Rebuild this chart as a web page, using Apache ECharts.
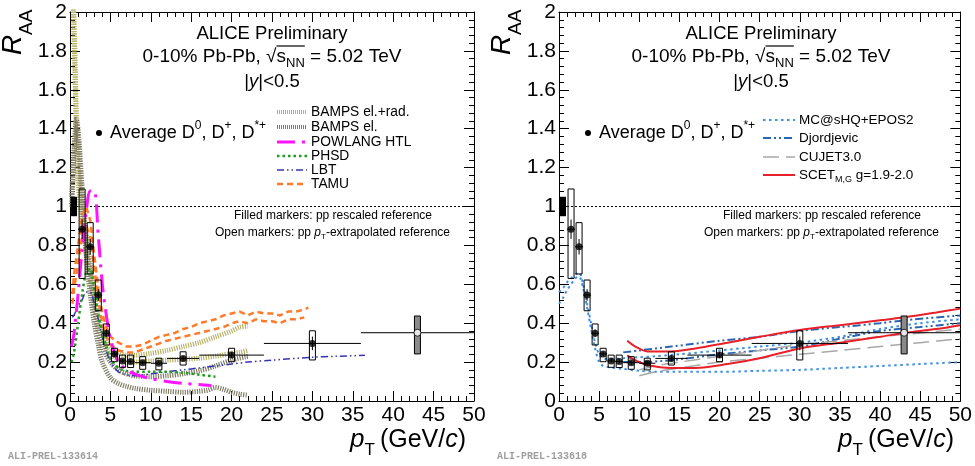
<!DOCTYPE html>
<html>
<head>
<meta charset="utf-8">
<script src="https://cdn.jsdelivr.net/npm/echarts@6/dist/echarts.min.js"></script>
<style>
  html, body { margin: 0; padding: 0; background: #fff; }
  #chart { width: 975px; height: 466px; }
</style>
</head>
<body>
<div id="chart"></div>
<script>
// ---- Measured D-meson R_AA (average D0, D+, D*+), 0-10% Pb-Pb ----
const binLow    = [1, 2, 3, 4, 5, 6, 7, 8, 10, 12, 16, 24, 36];
const binHigh   = [2, 3, 4, 5, 6, 7, 8, 10, 12, 16, 24, 36, 50];
const binCentre = [1.5, 2.5, 3.5, 4.5, 5.5, 6.5, 7.5, 9, 11, 14, 20, 30, 43];
const raa       = [0.883, 0.793, 0.545, 0.348, 0.242, 0.206, 0.203, 0.197, 0.194, 0.219, 0.236, 0.296, 0.351];
const statErr   = [0.05, 0.04, 0.03, 0.02, 0.012, 0.01, 0.01, 0.01, 0.01, 0.012, 0.015, 0.035, 0.05];
const systLow   = [0.63, 0.653, 0.464, 0.288, 0.202, 0.173, 0.172, 0.163, 0.16, 0.185, 0.202, 0.211, 0.242];
const systHigh  = [1.09, 0.917, 0.622, 0.396, 0.271, 0.236, 0.236, 0.228, 0.22, 0.253, 0.271, 0.361, 0.437];
const openPoint = [false, false, false, false, false, false, false, false, false, false, false, false, true];
const normCentre = 0.5;
const normLow = 0.95;
const normHigh = 1.05;

// ---- Model curves, left panel ----
const bampsRadUpper = [[0.4,2.1],[0.6,1.8],[0.8,1.45],[1.0,1.2],[1.5,1.0],[2,0.85],[2.5,0.7],[3,0.55],[3.5,0.44],[4,0.36],[4.5,0.31],[5,0.28],[6,0.25],[7,0.235],[8,0.235],[10,0.245],[12,0.26],[14,0.28],[16,0.3],[18,0.33],[20,0.36],[21,0.38],[22,0.385]];
const bampsRadLower = [[0.4,2.05],[0.6,1.7],[0.8,1.35],[1,1.12],[1.5,0.92],[2,0.78],[2.5,0.63],[3,0.5],[3.5,0.4],[4,0.32],[4.5,0.27],[5,0.24],[6,0.215],[7,0.2],[8,0.2],[10,0.205],[12,0.21],[14,0.215],[16,0.22],[18,0.23],[20,0.245],[21,0.25],[22,0.26]];
const bampsElUpper = [[0.2,1.05],[0.5,1.3],[0.8,1.45],[1.1,1.35],[1.5,1.1],[2,0.85],[2.5,0.65],[3,0.48],[3.5,0.36],[4,0.28],[5,0.2],[6,0.16],[7,0.14],[8,0.13],[10,0.125],[12,0.13],[14,0.14],[16,0.155],[18,0.18],[20,0.21],[22,0.23]];
const bampsElLower = [[0.2,1.0],[0.5,1.25],[0.8,1.4],[1.1,1.3],[1.5,1.0],[2,0.75],[2.5,0.55],[3,0.4],[3.5,0.29],[4,0.2],[5,0.12],[6,0.09],[7,0.075],[8,0.065],[10,0.055],[12,0.05],[14,0.045],[16,0.05],[17,0.055],[18,0.07],[19,0.06],[20,0.045],[21,0.035],[22,0.03]];
const powlang = [[0.2,0.28],[0.5,0.35],[1,0.55],[1.5,0.78],[2,0.97],[2.5,1.08],[3,1.08],[3.5,0.85],[4,0.6],[4.5,0.44],[5,0.32],[5.5,0.25],[6,0.2],[7,0.16],[8,0.14],[9,0.125],[10,0.115],[12,0.1],[14,0.09],[16,0.085],[17.5,0.08]];
const phsd = [[0.2,0.2],[0.5,0.25],[1,0.4],[1.5,0.55],[2,0.66],[2.5,0.68],[3,0.57],[3.5,0.45],[4,0.35],[4.5,0.28],[5,0.22],[6,0.17],[7,0.155],[8,0.15],[10,0.15],[12,0.15],[14,0.145],[16,0.135],[18,0.125]];
const lbt = [[0.3,0.43],[0.6,0.45],[1,0.49],[1.5,0.52],[2,0.56],[2.5,0.56],[3,0.5],[3.5,0.42],[4,0.33],[4.5,0.26],[5,0.2],[6,0.15],[7,0.135],[8,0.13],[10,0.14],[12,0.15],[14,0.16],[16,0.17],[18,0.18],[20,0.19],[22,0.2],[25,0.21],[30,0.225],[33,0.23],[36.5,0.235]];
const tamuUpper = [[0.3,0.55],[0.5,0.65],[1,0.8],[1.5,0.95],[2,1.0],[2.5,0.93],[3,0.75],[3.5,0.58],[4,0.45],[4.5,0.38],[5,0.33],[6,0.3],[7,0.28],[8,0.28],[9,0.29],[10,0.31],[11,0.33],[12,0.34],[13,0.35],[14,0.37],[15,0.38],[16,0.4],[17,0.41],[18,0.42],[19,0.44],[20,0.45],[21,0.46],[22,0.44],[23,0.46],[24,0.45],[25,0.45],[26,0.44],[27,0.46],[28,0.46],[29,0.47],[29.5,0.48]];
const tamuLower = [[0.3,0.5],[0.5,0.58],[1,0.7],[1.5,0.85],[2,0.9],[2.5,0.85],[3,0.68],[3.5,0.52],[4,0.4],[4.5,0.33],[5,0.29],[6,0.26],[7,0.25],[8,0.25],[9,0.265],[10,0.28],[11,0.295],[12,0.31],[13,0.32],[14,0.33],[15,0.34],[16,0.35],[17,0.36],[18,0.37],[19,0.38],[20,0.4],[21,0.41],[22,0.4],[23,0.42],[24,0.41],[25,0.41],[26,0.4],[27,0.42],[28,0.42],[29,0.43]];

// ---- Model curves, right panel ----
const mcshqLower = [[0,0.5],[0.5,0.53],[1,0.57],[1.5,0.6],[2,0.63],[2.5,0.64],[3,0.58],[3.5,0.48],[4,0.37],[4.5,0.27],[5,0.2],[5.5,0.18],[6,0.175],[8,0.165],[10,0.155],[12,0.15],[15,0.15],[20,0.15],[25,0.155],[30,0.16],[35,0.17],[40,0.18],[45,0.19],[50,0.2]];
const mcshqUpper = [[0,0.56],[0.5,0.58],[1,0.61],[1.5,0.63],[2,0.65],[2.5,0.66],[3,0.6],[3.5,0.5],[4,0.4],[4.5,0.3],[5,0.24],[5.5,0.22],[6,0.215],[8,0.22],[10,0.225],[12,0.23],[15,0.24],[20,0.26],[25,0.28],[30,0.3],[35,0.33],[40,0.37],[45,0.4],[50,0.42]];
const djordjevicUpper = [[8,0.25],[10,0.26],[14,0.28],[20,0.31],[25,0.33],[30,0.36],[35,0.38],[40,0.4],[43,0.415],[50,0.44]];
const djordjevicLower = [[8,0.2],[10,0.2],[14,0.21],[20,0.24],[25,0.26],[30,0.28],[35,0.32],[40,0.36],[45,0.38],[50,0.4]];
const cujetUpper = [[10,0.16],[12,0.18],[15,0.2],[20,0.23],[25,0.26],[30,0.29],[35,0.31],[40,0.33],[45,0.35],[50,0.37]];
const cujetLower = [[10,0.13],[12,0.15],[15,0.17],[20,0.2],[25,0.22],[30,0.24],[35,0.26],[40,0.28],[45,0.3],[50,0.32]];
const scetUpper = [[8.5,0.31],[9.5,0.28],[11,0.255],[14,0.255],[17,0.27],[21,0.3],[25,0.33],[30,0.365],[35,0.39],[40,0.415],[43,0.43],[47,0.455],[50,0.475]];
const scetLower = [[8.5,0.235],[9.5,0.21],[11,0.185],[14,0.17],[17,0.17],[21,0.19],[25,0.22],[30,0.27],[35,0.3],[40,0.33],[43,0.35],[47,0.37],[50,0.39]];

const xTicks = { min: 0, max: 50, interval: 5 };
const yTicks = { min: 0, max: 2, interval: 0.2 };

const FONT = '"Liberation Sans", Arial, Helvetica, sans-serif';
const COL = {
  bampsRad: '#b9b46c', bampsEl: '#807d66', powlang: '#ff14ff', phsd: '#1f9e1f',
  lbt: '#3434b4', tamu: '#ff7a2a', mcshq: '#3f8fe6', djordjevic: '#2a66b0',
  cujet: '#a8a8a8', scet: '#e8202a'
};

const panels = [
  { left: 70, top: 12, width: 404, height: 389 },
  { left: 559, top: 12, width: 403, height: 389 }
];

const grids = panels.map(p => ({ left: p.left, top: p.top, width: p.width, height: p.height, containLabel: false }));

function xAxisFor(gi, pos) {
  return {
    type: 'value', gridIndex: gi, position: pos, min: xTicks.min, max: xTicks.max, interval: xTicks.interval,
    axisLine: { show: true, onZero: false, lineStyle: { color: '#000', width: 1 } },
    axisTick: { show: true, inside: true, length: 10, lineStyle: { color: '#000', width: 1 } },
    minorTick: { show: true, splitNumber: 5, length: 5, lineStyle: { color: '#000', width: 1 } },
    axisLabel: { show: pos === 'bottom', fontFamily: FONT, fontSize: 21, color: '#000', margin: 4 },
    splitLine: { show: false }
  };
}
function yAxisFor(gi, pos) {
  return {
    type: 'value', gridIndex: gi, position: pos, min: yTicks.min, max: yTicks.max, interval: yTicks.interval,
    axisLine: { show: true, onZero: false, lineStyle: { color: '#000', width: 1 } },
    axisTick: { show: true, inside: true, length: 10, lineStyle: { color: '#000', width: 1 } },
    minorTick: { show: true, splitNumber: 5, length: 5, lineStyle: { color: '#000', width: 1 } },
    axisLabel: { show: pos === 'left', fontFamily: FONT, fontSize: 21, color: '#000', margin: 3,
      formatter: v => String(Math.round(v * 10) / 10) },
    splitLine: { show: false }
  };
}

const xAxes = [xAxisFor(0, 'bottom'), xAxisFor(0, 'top'), xAxisFor(1, 'bottom'), xAxisFor(1, 'top')];
const yAxes = [yAxisFor(0, 'left'), yAxisFor(0, 'right'), yAxisFor(1, 'left'), yAxisFor(1, 'right')];

function curve(data, axis, color, width, dash, smooth) {
  return {
    type: 'line', xAxisIndex: axis * 2, yAxisIndex: axis * 2, data: data, showSymbol: false,
    smooth: smooth === undefined ? 0.3 : smooth, clip: true, silent: true,
    lineStyle: { color: color, width: width, type: dash, cap: 'butt' }, z: 3
  };
}

function measurementSeries(axis) {
  const pts = binCentre.map((c, i) => [c, raa[i], systLow[i], systHigh[i], binLow[i], binHigh[i], statErr[i], openPoint[i] ? 1 : 0]);
  const out = [];
  // unity reference line
  out.push({
    type: 'line', xAxisIndex: axis * 2, yAxisIndex: axis * 2, data: [[0, 1], [50, 1]], showSymbol: false, silent: true,
    lineStyle: { color: '#000', width: 1, type: [2, 2] }, z: 2
  });
  // global normalisation box
  out.push({
    type: 'custom', xAxisIndex: axis * 2, yAxisIndex: axis * 2, data: [[normCentre, normLow, normHigh]], silent: true, z: 6,
    renderItem: (params, api) => {
      const a = api.coord([api.value(0), api.value(2)]);
      const b = api.coord([api.value(0), api.value(1)]);
      return { type: 'rect', shape: { x: a[0] - 3, y: a[1], width: 6, height: b[1] - a[1] }, style: { fill: '#000' } };
    }
  });
  // bin-width and statistical bars
  out.push({
    type: 'custom', xAxisIndex: axis * 2, yAxisIndex: axis * 2, data: pts, silent: true, z: 7,
    renderItem: (params, api) => {
      const c = api.value(0), r = api.value(1), s = api.value(6);
      const l = api.coord([api.value(4), r]), h = api.coord([api.value(5), r]);
      const t = api.coord([c, r + s]), b = api.coord([c, r - s]);
      return { type: 'group', children: [
        { type: 'line', shape: { x1: l[0], y1: l[1], x2: h[0], y2: h[1] }, style: { stroke: '#000', lineWidth: 1 } },
        { type: 'line', shape: { x1: t[0], y1: t[1], x2: b[0], y2: b[1] }, style: { stroke: '#000', lineWidth: 1 } }
      ] };
    }
  });
  // systematic boxes
  out.push({
    type: 'custom', xAxisIndex: axis * 2, yAxisIndex: axis * 2, data: pts, silent: true, z: 8,
    renderItem: (params, api) => {
      const c = api.value(0);
      const a = api.coord([c, api.value(3)]), b = api.coord([c, api.value(2)]);
      const open = api.value(7) === 1;
      return { type: 'rect', shape: { x: a[0] - 3, y: a[1], width: 6, height: b[1] - a[1] },
        style: { fill: open ? '#8a8a8a' : 'none', stroke: '#000', lineWidth: 1 } };
    }
  });
  // markers
  out.push({
    type: 'scatter', xAxisIndex: axis * 2, yAxisIndex: axis * 2, silent: true, z: 9,
    data: pts.filter(p => !p[7]).map(p => [p[0], p[1]]), symbol: 'circle', symbolSize: 7,
    itemStyle: { color: '#000' }
  });
  out.push({
    type: 'scatter', xAxisIndex: axis * 2, yAxisIndex: axis * 2, silent: true, z: 9,
    data: pts.filter(p => p[7]).map(p => [p[0], p[1]]), symbol: 'circle', symbolSize: 7,
    itemStyle: { color: '#fff', borderColor: '#000', borderWidth: 1 }
  });
  return out;
}

const hatch = [1.2, 1.2];
const series = [
  curve(bampsRadUpper, 0, COL.bampsRad, 5, hatch),
  curve(bampsRadLower, 0, COL.bampsRad, 5, hatch),
  curve(bampsElUpper, 0, COL.bampsEl, 5, hatch),
  curve(bampsElLower, 0, COL.bampsEl, 5, hatch),
  curve(tamuUpper, 0, COL.tamu, 2.5, [6, 4], 0),
  curve(tamuLower, 0, COL.tamu, 2.5, [6, 4], 0),
  curve(lbt, 0, COL.lbt, 1.5, [7, 3, 1.5, 3, 1.5, 3]),
  curve(phsd, 0, COL.phsd, 2.5, [2.5, 3]),
  curve(powlang, 0, COL.powlang, 3, [18, 7, 3, 7]),
  curve(mcshqLower, 1, COL.mcshq, 2, [2.5, 3.5]),
  curve(mcshqUpper, 1, COL.mcshq, 2, [2.5, 3.5]),
  curve(djordjevicUpper, 1, COL.djordjevic, 2, [8, 3, 2, 3, 2, 3]),
  curve(djordjevicLower, 1, COL.djordjevic, 2, [8, 3, 2, 3, 2, 3]),
  curve(cujetUpper, 1, COL.cujet, 1.5, [16, 7]),
  curve(cujetLower, 1, COL.cujet, 1.5, [16, 7]),
  curve(scetUpper, 1, COL.scet, 2, 'solid'),
  curve(scetLower, 1, COL.scet, 2, 'solid')
].concat(measurementSeries(0), measurementSeries(1));

// ---- text helpers: runs of normal / italic / sub / superscript pieces ----
const mctx = document.createElement('canvas').getContext('2d');
function fontOf(p) { return (p.italic ? 'italic ' : '') + p.size + 'px ' + FONT; }
function run(pieces, x, cy, align) {
  const w = pieces.map(p => { mctx.font = fontOf(p); return mctx.measureText(p.t).width + (p.gap || 0); });
  const total = w.reduce((a, b) => a + b, 0);
  let cx = align === 'center' ? x - total / 2 : align === 'right' ? x - total : x;
  const els = [];
  const starts = [];
  pieces.forEach((p, i) => {
    starts.push(cx);
    els.push({ type: 'text', x: cx, y: cy + (p.dy || 0), silent: true, z: 20,
      style: { text: p.t, font: fontOf(p), fill: p.color || '#000', align: 'left', verticalAlign: 'middle' } });
    cx += w[i];
  });
  return { els, starts, widths: w };
}

function panelTexts(p, stamp, legend) {
  const els = [];
  const cx = p.left + 202;
  els.push(...run([{ t: 'ALICE Preliminary', size: 18.5 }], cx, 34, 'center').els);
  const energy = run([
    { t: '0-10% Pb-Pb, ', size: 19 },
    { t: '\u221A', size: 19 },
    { t: 's', size: 19 },
    { t: 'NN', size: 13, dy: 6 },
    { t: ' = 5.02 TeV', size: 19 }
  ], cx, 57, 'center');
  els.push(...energy.els);
  const s0 = energy.starts[2], s1 = energy.starts[3] + energy.widths[3];
  els.push({ type: 'line', silent: true, z: 20, shape: { x1: s0, y1: 46, x2: s1, y2: 46 }, style: { stroke: '#000', lineWidth: 1.2 } });
  els.push(...run([{ t: '|', size: 18.5 }, { t: 'y', size: 18.5, italic: true }, { t: '|<0.5', size: 18.5 }], cx, 82, 'center').els);

  // bullet + measurement label
  els.push({ type: 'circle', silent: true, z: 20, shape: { cx: p.left + 29, cy: 133, r: 3 }, style: { fill: '#000' } });
  els.push(...run([
    { t: 'Average D', size: 18 }, { t: '0', size: 12, dy: -7 }, { t: ', D', size: 18 }, { t: '+', size: 12, dy: -7 },
    { t: ', D', size: 18 }, { t: '*+', size: 12, dy: -7 }
  ], p.left + 40, 133, 'left').els);

  // reference notes
  els.push(...run([{ t: 'Filled markers: pp rescaled reference', size: 12 }], p.left + 362, 216, 'right').els);
  els.push(...run([
    { t: 'Open markers: pp ', size: 12 }, { t: 'p', size: 12, italic: true }, { t: 'T', size: 8, dy: 4 },
    { t: '-extrapolated reference', size: 12 }
  ], p.left + 380, 233, 'right').els);

  // legend
  legend.forEach(item => {
    els.push({ type: 'line', silent: true, z: 20, shape: { x1: item.x1, y1: item.y, x2: item.x2, y2: item.y },
      style: { stroke: item.color, lineWidth: item.width, lineDash: item.dash === 'solid' ? null : item.dash } });
    els.push(...run(item.label, item.x2 + 4, item.y, 'left').els);
  });

  // axis titles
  els.push({ type: 'text', silent: true, z: 20, x: p.left - 43, y: 55, rotation: Math.PI / 2,
    style: { text: 'R', font: 'italic 28px ' + FONT, fill: '#000', align: 'left', verticalAlign: 'bottom' } });
  els.push({ type: 'text', silent: true, z: 20, x: p.left - 34, y: 35, rotation: Math.PI / 2,
    style: { text: 'AA', font: '19px ' + FONT, fill: '#000', align: 'left', verticalAlign: 'bottom' } });
  const xt = run([
    { t: 'p', size: 26, italic: true }, { t: 'T', size: 17, dy: 10, gap: 5 }, { t: '(GeV/', size: 25 },
    { t: 'c', size: 25, italic: true }, { t: ')', size: 25 }
  ], p.left + p.width - 8, 440, 'right');
  els.push(...xt.els);

  els.push({ type: 'text', silent: true, z: 20, x: p.left - 62, y: 456,
    style: { text: stamp, font: 'bold 10px "Liberation Mono", "DejaVu Sans Mono", monospace', fill: '#a0a0a0', align: 'left', verticalAlign: 'middle' } });
  return els;
}

const lx1 = 277, lx2 = 307;
const legendLeft = [
  { y: 112, color: COL.bampsRad, width: 4, dash: [1, 1], label: [{ t: 'BAMPS el.+rad.', size: 13.8 }] },
  { y: 127, color: COL.bampsEl, width: 4, dash: [1, 1], label: [{ t: 'BAMPS el.', size: 13.8 }] },
  { y: 142, color: COL.powlang, width: 3, dash: [18, 7, 3, 7], label: [{ t: 'POWLANG HTL', size: 13.8 }] },
  { y: 156, color: COL.phsd, width: 2.5, dash: [2.5, 3], label: [{ t: 'PHSD', size: 13.8 }] },
  { y: 170, color: COL.lbt, width: 1.5, dash: [7, 3, 1.5, 3, 1.5, 3], label: [{ t: 'LBT', size: 13.8 }] },
  { y: 184, color: COL.tamu, width: 2.5, dash: [6, 4], label: [{ t: 'TAMU', size: 13.8 }] }
].map(o => Object.assign({ x1: lx1, x2: lx2 }, o));
const rx1 = 763, rx2 = 795;
const legendRight = [
  { y: 120, color: COL.mcshq, width: 2, dash: [2.5, 3.5], label: [{ t: 'MC@sHQ+EPOS2', size: 13.5 }] },
  { y: 138, color: COL.djordjevic, width: 2, dash: [8, 3, 2, 3, 2, 3], label: [{ t: 'Djordjevic', size: 13.5 }] },
  { y: 157, color: COL.cujet, width: 1.5, dash: [16, 7], label: [{ t: 'CUJET3.0', size: 13.5 }] },
  { y: 175, color: COL.scet, width: 2, dash: 'solid', label: [{ t: 'SCET', size: 13.5 }, { t: 'M,G', size: 9, dy: 5 }, { t: ' g=1.9-2.0', size: 13.5 }] }
].map(o => Object.assign({ x1: rx1, x2: rx2 }, o));

const graphics = [].concat(
  panelTexts(panels[0], 'ALI-PREL-133614', legendLeft),
  panelTexts(panels[1], 'ALI-PREL-133618', legendRight)
);

const chart = echarts.init(document.getElementById('chart'), null, { renderer: 'canvas' });
chart.setOption({
  animation: false,
  backgroundColor: '#fff',
  grid: grids,
  xAxis: xAxes,
  yAxis: yAxes,
  series: series,
  graphic: { elements: graphics }
});
</script>
</body>
</html>
